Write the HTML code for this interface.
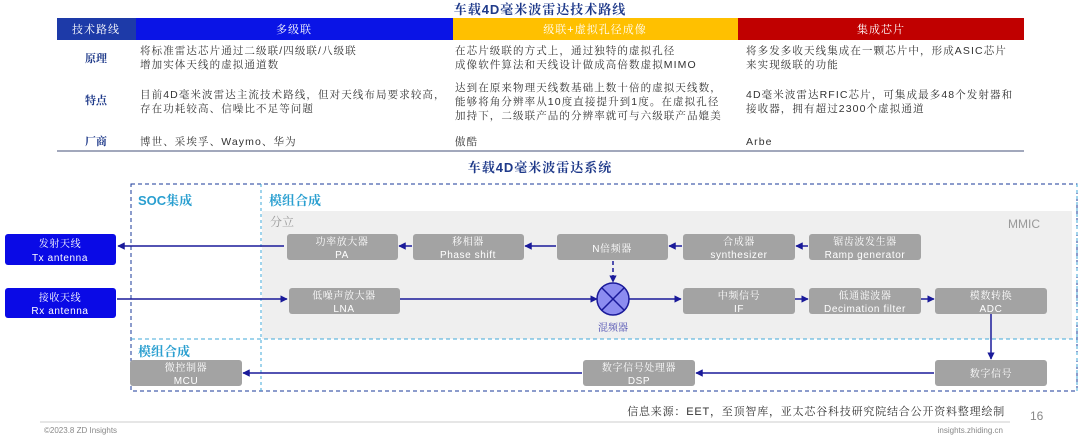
<!DOCTYPE html>
<html><head><meta charset="utf-8"><style>
html,body{margin:0;padding:0;background:#fff;}
svg text{font-family:"Liberation Sans","Noto Serif CJK SC",serif;}
.bx{fill:#a3a3a3;}
.bt{fill:#fff;font-size:10px;text-anchor:middle;letter-spacing:0.6px;}
.ln{stroke:#1a1a9a;stroke-width:1.5;fill:none;}
.cell{font-size:10.5px;fill:#333;letter-spacing:1.1px;}
.lab{font-size:11px;fill:#1f3a8a;font-weight:bold;text-anchor:middle;}
</style></head><body>
<svg width="1080" height="440" viewBox="0 0 1080 440" xmlns="http://www.w3.org/2000/svg">
<defs><marker id="a" viewBox="0 0 10 10" refX="9" refY="5" markerWidth="5" markerHeight="5" orient="auto"><path d="M0,0L10,5L0,10z" fill="#1a1a9a"/></marker></defs>
<text x="540" y="14" font-size="13" font-weight="bold" fill="#1f3a8a" text-anchor="middle" letter-spacing="1">车载4D毫米波雷达技术路线</text>
<rect x="57" y="18" width="79" height="22" fill="#1d3aa8"/>
<rect x="136" y="18" width="317" height="22" fill="#0a14e6"/>
<rect x="453" y="18" width="285" height="22" fill="#ffc000"/>
<rect x="738" y="18" width="286" height="22" fill="#c00000"/>
<g font-size="11" fill="#fff" text-anchor="middle" letter-spacing="1"><text x="96" y="33">技术路线</text><text x="294" y="33">多级联</text><text x="595" y="33">级联+虚拟孔径成像</text><text x="881" y="33">集成芯片</text></g>
<text class="lab" x="96" y="62">原理</text><text class="lab" x="96" y="104">特点</text><text class="lab" x="96" y="145">厂商</text>
<g class="cell">
<text x="140" y="54">将标准雷达芯片通过二级联/四级联/八级联</text><text x="140" y="68">增加实体天线的虚拟通道数</text>
<text x="140" y="98">目前4D毫米波雷达主流技术路线，但对天线布局要求较高，</text><text x="140" y="112">存在功耗较高、信噪比不足等问题</text>
<text x="140" y="145">博世、采埃孚、Waymo、华为</text>
<text x="455" y="54">在芯片级联的方式上，通过独特的虚拟孔径</text><text x="455" y="68">成像软件算法和天线设计做成高倍数虚拟MIMO</text>
<text x="455" y="91">达到在原来物理天线数基础上数十倍的虚拟天线数，</text><text x="455" y="105">能够将角分辨率从10度直接提升到1度。在虚拟孔径</text><text x="455" y="119">加持下，二级联产品的分辨率就可与六级联产品媲美</text>
<text x="455" y="145">傲酷</text>
<text x="746" y="54">将多发多收天线集成在一颗芯片中，形成ASIC芯片</text><text x="746" y="68">来实现级联的功能</text>
<text x="746" y="98">4D毫米波雷达RFIC芯片，可集成最多48个发射器和</text><text x="746" y="112">接收器，拥有超过2300个虚拟通道</text>
<text x="746" y="145">Arbe</text>
</g>
<line x1="57" y1="151" x2="1024" y2="151" stroke="#44507a" stroke-width="1"/>
<text x="540" y="172" font-size="13" font-weight="bold" fill="#1f3a8a" text-anchor="middle" letter-spacing="1">车载4D毫米波雷达系统</text>
<rect x="262" y="211" width="810" height="128" fill="#efefef"/>
<rect x="131" y="184" width="946" height="207" fill="none" stroke="#1a3a9a" stroke-dasharray="4,3" stroke-width="1"/>
<line x1="1077" y1="184" x2="1077" y2="391" stroke="#40a8d8" stroke-dasharray="3,3"/>
<line x1="261" y1="184" x2="261" y2="391" stroke="#40a8d8" stroke-dasharray="3,3"/>
<line x1="131" y1="339" x2="1077" y2="339" stroke="#40a8d8" stroke-dasharray="4,3"/>
<g font-size="13" font-weight="bold" fill="#2a9fd0"><text x="138" y="205">SOC集成</text><text x="269" y="205">模组合成</text><text x="138" y="356">模组合成</text></g>
<text x="270" y="226" font-size="12" fill="#999">分立</text>
<text x="1040" y="228" font-size="12" fill="#999" text-anchor="end">MMIC</text>
<rect x="5" y="234" width="111" height="31" rx="3" fill="#0a0ae6"/>
<rect x="5" y="288" width="111" height="30" rx="3" fill="#0a0ae6"/>
<g class="bt"><text x="60" y="247">发射天线</text><text x="60" y="261">Tx antenna</text><text x="60" y="301">接收天线</text><text x="60" y="314">Rx antenna</text></g>
<g class="bx">
<rect x="287" y="234" width="111" height="26" rx="3"/><rect x="413" y="234" width="111" height="26" rx="3"/><rect x="557" y="234" width="111" height="26" rx="3"/><rect x="683" y="234" width="112" height="26" rx="3"/><rect x="809" y="234" width="112" height="26" rx="3"/>
<rect x="289" y="288" width="111" height="26" rx="3"/><rect x="683" y="288" width="112" height="26" rx="3"/><rect x="809" y="288" width="112" height="26" rx="3"/><rect x="935" y="288" width="112" height="26" rx="3"/>
<rect x="935" y="360" width="112" height="26" rx="3"/><rect x="583" y="360" width="112" height="26" rx="3"/><rect x="130" y="360" width="112" height="26" rx="3"/>
</g>
<g class="bt">
<text x="342" y="245">功率放大器</text><text x="342" y="258">PA</text>
<text x="468" y="245">移相器</text><text x="468" y="258">Phase shift</text>
<text x="612" y="252">N倍频器</text>
<text x="739" y="245">合成器</text><text x="739" y="258">synthesizer</text>
<text x="865" y="245">锯齿波发生器</text><text x="865" y="258">Ramp generator</text>
<text x="344" y="299">低噪声放大器</text><text x="344" y="312">LNA</text>
<text x="739" y="299">中频信号</text><text x="739" y="312">IF</text>
<text x="865" y="299">低通滤波器</text><text x="865" y="312">Decimation filter</text>
<text x="991" y="299">模数转换</text><text x="991" y="312">ADC</text>
<text x="991" y="377">数字信号</text>
<text x="639" y="371">数字信号处理器</text><text x="639" y="384">DSP</text>
<text x="186" y="371">微控制器</text><text x="186" y="384">MCU</text>
</g>
<g class="ln">
<line x1="284" y1="246" x2="118" y2="246" marker-end="url(#a)"/>
<line x1="412" y1="246" x2="399" y2="246" marker-end="url(#a)"/>
<line x1="556" y1="246" x2="525" y2="246" marker-end="url(#a)"/>
<line x1="682" y1="246" x2="669" y2="246" marker-end="url(#a)"/>
<line x1="808" y1="246" x2="796" y2="246" marker-end="url(#a)"/>
<line x1="613" y1="261" x2="613" y2="282" stroke-dasharray="4,3" marker-end="url(#a)"/>
<line x1="117" y1="299" x2="287" y2="299" marker-end="url(#a)"/>
<line x1="400" y1="299" x2="597" y2="299" marker-end="url(#a)"/>
<line x1="629" y1="299" x2="681" y2="299" marker-end="url(#a)"/>
<line x1="795" y1="299" x2="808" y2="299" marker-end="url(#a)"/>
<line x1="921" y1="299" x2="934" y2="299" marker-end="url(#a)"/>
<line x1="991" y1="314" x2="991" y2="359" marker-end="url(#a)"/>
<line x1="934" y1="373" x2="696" y2="373" marker-end="url(#a)"/>
<line x1="582" y1="373" x2="243" y2="373" marker-end="url(#a)"/>
</g>
<circle cx="613" cy="299" r="16" fill="#8c8cf0" stroke="#1a1a9a" stroke-width="1.5"/>
<line x1="602" y1="288" x2="624" y2="310" stroke="#1a1a9a" stroke-width="1.5"/><line x1="624" y1="288" x2="602" y2="310" stroke="#1a1a9a" stroke-width="1.5"/>
<text x="613" y="331" font-size="10" fill="#4a4ab0" text-anchor="middle">混频器</text>
<text x="1005" y="415" font-size="11" fill="#333" text-anchor="end" letter-spacing="0.8">信息来源：EET，至顶智库，亚太芯谷科技研究院结合公开资料整理绘制</text>
<text x="1030" y="420" font-size="12" fill="#888">16</text>
<line x1="40" y1="422" x2="1010" y2="422" stroke="#ccc"/>
<text x="44" y="433" font-size="8" fill="#888">©2023.8 ZD Insights</text>
<text x="1003" y="433" font-size="8" fill="#888" text-anchor="end">insights.zhiding.cn</text>
</svg>
</body></html>
